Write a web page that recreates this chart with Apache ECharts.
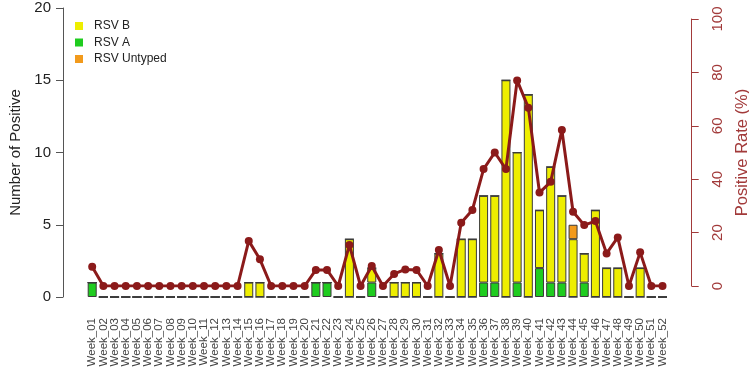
<!DOCTYPE html>
<html>
<head>
<meta charset="utf-8">
<script src="https://cdn.jsdelivr.net/npm/echarts@6/dist/echarts.min.js"></script>
<style>
  html, body { margin: 0; padding: 0; background: #fff; }
  #chart { width: 749px; height: 370px; }
</style>
</head>
<body>
<div id="chart"></div>
<script>
var weeks = ['Week_01', 'Week_02', 'Week_03', 'Week_04', 'Week_05', 'Week_06', 'Week_07', 'Week_08', 'Week_09', 'Week_10',
  'Week_11', 'Week_12', 'Week_13', 'Week_14', 'Week_15', 'Week_16', 'Week_17', 'Week_18', 'Week_19', 'Week_20',
  'Week_21', 'Week_22', 'Week_23', 'Week_24', 'Week_25', 'Week_26', 'Week_27', 'Week_28', 'Week_29', 'Week_30',
  'Week_31', 'Week_32', 'Week_33', 'Week_34', 'Week_35', 'Week_36', 'Week_37', 'Week_38', 'Week_39', 'Week_40',
  'Week_41', 'Week_42', 'Week_43', 'Week_44', 'Week_45', 'Week_46', 'Week_47', 'Week_48', 'Week_49', 'Week_50',
  'Week_51', 'Week_52'];

var rsvA = [1, 0, 0, 0, 0, 0, 0, 0, 0, 0,
  0, 0, 0, 0, 0, 0, 0, 0, 0, 0,
  1, 1, 0, 0, 0, 1, 0, 0, 0, 0,
  0, 0, 0, 0, 0, 1, 1, 0, 1, 0,
  2, 1, 1, 0, 1, 0, 0, 0, 0, 0,
  0, 0];
var rsvB = [0, 0, 0, 0, 0, 0, 0, 0, 0, 0,
  0, 0, 0, 0, 1, 1, 0, 0, 0, 0,
  0, 0, 0, 4, 0, 1, 0, 1, 1, 1,
  0, 3, 0, 4, 4, 6, 6, 15, 9, 14,
  4, 8, 6, 4, 2, 6, 2, 2, 0, 2,
  0, 0];
var rsvUntyped = [0, 0, 0, 0, 0, 0, 0, 0, 0, 0,
  0, 0, 0, 0, 0, 0, 0, 0, 0, 0,
  0, 0, 0, 0, 0, 0, 0, 0, 0, 0,
  0, 0, 0, 0, 0, 0, 0, 0, 0, 0,
  0, 0, 0, 1, 0, 0, 0, 0, 0, 0,
  0, 0];
// positive rate (%)
var positiveRate = [7.2, 0, 0, 0, 0, 0, 0, 0, 0, 0,
  0, 0, 0, 0, 16.9, 10, 0, 0, 0, 0,
  6, 6, 0, 15.4, 0, 7.5, 0, 4.5, 6.2, 6,
  0, 13.5, 0, 23.7, 28.5, 43.8, 50, 43.8, 77, 66.8,
  35, 39, 58.4, 27.8, 22.8, 24.3, 12.2, 18.2, 0, 12.6,
  0, 0];

var countTicks = [0, 5, 10, 15, 20];
var rateTicks = [0, 20, 40, 60, 80, 100];

var FONT = 'Liberation Sans';
var RATE_COLOR = '#a23a3a';

var myChart = echarts.init(document.getElementById('chart'), null, { renderer: 'canvas' });
var option;

function barSeries(name, data, color) {
  return {
    name: name,
    type: 'bar',
    stack: 'rsv',
    xAxisIndex: 0,
    yAxisIndex: 0,
    data: data,
    barWidth: 9,
    itemStyle: {
      color: color,
      borderColor: '#3a3a3a',
      borderWidth: 1,
    },
    emphasis: { disabled: true },
  };
}

option = {
  animation: false,
  textStyle: { fontFamily: FONT },
  grid: [
    { left: 86.6, right: 80.9, top: 8, bottom: 73, outerBoundsMode: 'none' },
    { left: 86.6, right: 80.9, top: 19, bottom: 84, outerBoundsMode: 'none' },
  ],
  legend: {
    orient: 'vertical',
    left: 70,
    top: 15,
    itemWidth: 8,
    itemHeight: 8,
    itemGap: 4.5,
    icon: 'rect',
    data: ['RSV B', 'RSV A', 'RSV Untyped'],
    itemStyle: { borderWidth: 0 },
    textStyle: { fontFamily: FONT, fontSize: 12, color: '#222', padding: [0, 0, 0, 6] },
  },
  xAxis: [
    {
      type: 'category',
      gridIndex: 0,
      data: weeks,
      boundaryGap: true,
      axisLine: { show: false },
      axisTick: { show: false },
      axisLabel: {
        interval: 0,
        rotate: 90,
        margin: 21,
        fontSize: 11.5,
        color: '#444',
        fontFamily: FONT,
      },
    },
    {
      type: 'category',
      gridIndex: 1,
      data: weeks,
      boundaryGap: true,
      show: false,
    },
  ],
  yAxis: [
    {
      type: 'value',
      gridIndex: 0,
      position: 'left',
      offset: 23.6,
      min: 0,
      max: 20,
      interval: 5,
      name: 'Number of Positive',
      nameLocation: 'middle',
      nameRotate: 90,
      nameGap: 36,
      nameTextStyle: { fontSize: 15, color: '#222', fontFamily: FONT },
      axisLine: { show: true, lineStyle: { color: '#555', width: 1 } },
      axisTick: { show: true, length: 7, lineStyle: { color: '#555' }, customValues: countTicks },
      axisLabel: { fontSize: 15, color: '#222', margin: 12, fontFamily: FONT, customValues: countTicks },
      splitLine: { show: false },
    },
    {
      type: 'value',
      gridIndex: 1,
      position: 'right',
      offset: 23.6,
      min: 0,
      max: 100,
      interval: 20,
      name: 'Positive Rate (%)',
      nameLocation: 'middle',
      nameRotate: 90,
      nameGap: 41,
      nameTextStyle: { fontSize: 16.5, color: RATE_COLOR, fontFamily: FONT },
      axisLine: { show: true, lineStyle: { color: RATE_COLOR, width: 1 } },
      axisTick: { show: true, length: 7, lineStyle: { color: RATE_COLOR }, customValues: rateTicks },
      axisLabel: { rotate: 90, fontSize: 15, color: RATE_COLOR, margin: 19, fontFamily: FONT, customValues: rateTicks },
      splitLine: { show: false },
    },
  ],
  series: [
    barSeries('RSV A', rsvA, '#1fcc1f'),
    barSeries('RSV B', rsvB, '#eeee00'),
    barSeries('RSV Untyped', rsvUntyped, '#f29a1c'),
    {
      name: 'Positive Rate',
      type: 'line',
      xAxisIndex: 1,
      yAxisIndex: 1,
      data: positiveRate,
      symbol: 'circle',
      symbolSize: 8,
      showSymbol: true,
      showAllSymbol: true,
      z: 5,
      lineStyle: { color: '#8b1a1a', width: 3 },
      itemStyle: { color: '#8b1a1a' },
      emphasis: { disabled: true },
    },
  ],
};

option && myChart.setOption(option);
</script>
</body>
</html>
